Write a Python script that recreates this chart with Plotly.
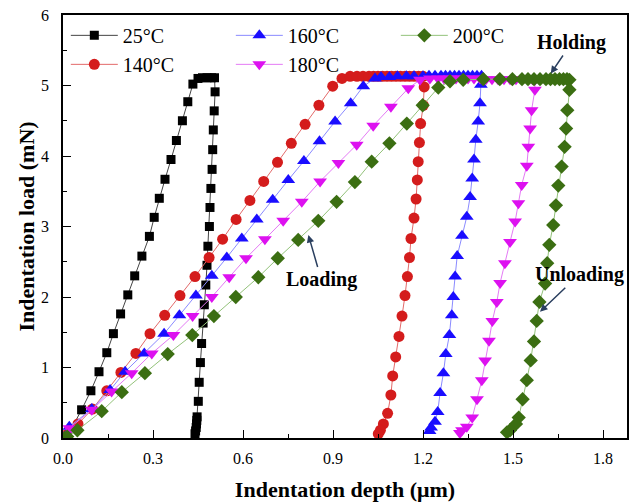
import plotly.graph_objects as go

# ---- data (indentation depth in um, load in mN) ----
names = ["25°C", "140°C", "160°C", "180°C", "200°C"]

x25 = [0.005, 0.014, 0.062, 0.093, 0.12, 0.146, 0.168, 0.192, 0.216, 0.239, 0.263, 0.288, 0.304, 0.321,
       0.34, 0.36, 0.378, 0.398, 0.416, 0.433, 0.45, 0.465, 0.48, 0.495, 0.505,
       0.507, 0.504, 0.501, 0.499, 0.497, 0.493, 0.49, 0.488, 0.483, 0.48, 0.476, 0.471, 0.467, 0.462,
       0.458, 0.454, 0.451, 0.447, 0.446, 0.445, 0.444, 0.442, 0.44]
y25 = [0.0, 0.02, 0.40, 0.67, 0.94, 1.21, 1.48, 1.76, 2.03, 2.30, 2.58, 2.86, 3.13, 3.40,
       3.67, 3.95, 4.22, 4.50, 4.77, 5.02, 5.10, 5.11, 5.11, 5.11, 5.11,
       4.91, 4.64, 4.37, 4.09, 3.81, 3.54, 3.27, 3.00, 2.72, 2.45, 2.17, 1.89, 1.63, 1.34,
       1.07, 0.79, 0.52, 0.30, 0.25, 0.20, 0.15, 0.10, 0.06]

x140 = [0.01, 0.05, 0.098, 0.146, 0.193, 0.243, 0.29, 0.339, 0.39, 0.44, 0.487, 0.532, 0.577, 0.623,
        0.669, 0.715, 0.761, 0.807, 0.853, 0.899, 0.93,
        0.957, 0.98, 1.0, 1.02, 1.035, 1.05, 1.065, 1.08, 1.095, 1.11, 1.125, 1.14, 1.155, 1.17, 1.185, 1.2,
        1.204, 1.201, 1.192, 1.188, 1.184, 1.181, 1.177, 1.17, 1.16, 1.155, 1.148, 1.14, 1.13, 1.12,
        1.109, 1.099, 1.093, 1.082, 1.068, 1.058, 1.051]
y140 = [0.04, 0.2, 0.41, 0.67, 0.93, 1.20, 1.48, 1.74, 2.02, 2.29, 2.56, 2.82, 3.10, 3.37,
        3.64, 3.91, 4.18, 4.45, 4.72, 4.99, 5.10,
        5.13, 5.13, 5.13, 5.13, 5.13, 5.13, 5.13, 5.13, 5.13, 5.13, 5.13, 5.13, 5.13, 5.13, 5.13, 5.13,
        4.98, 4.72, 4.46, 4.19, 3.92, 3.66, 3.39, 3.12, 2.83, 2.56, 2.29, 2.02, 1.73, 1.44,
        1.15, 0.88, 0.61, 0.35, 0.20, 0.11, 0.06]

x160 = [0.01, 0.021, 0.096, 0.157, 0.207, 0.271, 0.337, 0.388, 0.443, 0.496, 0.546, 0.596, 0.646, 0.699,
        0.751, 0.803, 0.855, 0.907, 0.959, 1.001, 1.04,
        1.06, 1.088, 1.115, 1.145, 1.17, 1.2, 1.22, 1.24, 1.26, 1.275, 1.29, 1.305, 1.32, 1.335, 1.35,
        1.365, 1.38, 1.395,
        1.393, 1.39, 1.384, 1.376, 1.37, 1.364, 1.357, 1.346, 1.33, 1.314, 1.307, 1.301, 1.296, 1.288,
        1.276, 1.268, 1.257, 1.249, 1.24, 1.227, 1.222]
y160 = [0.03, 0.16, 0.41, 0.68, 0.94, 1.20, 1.48, 1.74, 2.02, 2.30, 2.56, 2.83, 3.10, 3.38,
        3.66, 3.93, 4.21, 4.49, 4.75, 4.99, 5.10,
        5.12, 5.12, 5.13, 5.13, 5.13, 5.13, 5.14, 5.14, 5.14, 5.14, 5.14, 5.14, 5.14, 5.14, 5.14,
        5.14, 5.14, 5.14,
        5.01, 4.75, 4.49, 4.23, 3.95, 3.68, 3.42, 3.14, 2.87, 2.58, 2.29, 2.00, 1.74, 1.46,
        1.19, 0.92, 0.64, 0.37, 0.23, 0.15, 0.10]

x180 = [0.01, 0.021, 0.096, 0.162, 0.229, 0.296, 0.368, 0.432, 0.496, 0.554, 0.61, 0.673, 0.734, 0.796,
        0.857, 0.918, 0.979, 1.034, 1.093, 1.151, 1.19,
        1.223, 1.25, 1.27, 1.29, 1.31, 1.33, 1.35, 1.37, 1.39, 1.41, 1.43, 1.45, 1.47, 1.49, 1.51, 1.53,
        1.55, 1.565, 1.573,
        1.573, 1.562, 1.557, 1.551, 1.546, 1.529, 1.518, 1.507, 1.49, 1.473, 1.457, 1.446, 1.431, 1.42,
        1.407, 1.396, 1.38, 1.364, 1.346, 1.33, 1.323]
y180 = [0.05, 0.14, 0.40, 0.66, 0.92, 1.20, 1.46, 1.73, 2.00, 2.28, 2.55, 2.82, 3.08, 3.35,
        3.64, 3.90, 4.16, 4.43, 4.70, 4.96, 5.08,
        5.10, 5.10, 5.10, 5.10, 5.10, 5.10, 5.10, 5.10, 5.10, 5.09, 5.09, 5.09, 5.09, 5.09, 5.09, 5.09,
        5.09, 5.09, 5.08,
        4.94, 4.65, 4.39, 4.13, 3.86, 3.59, 3.33, 3.07, 2.78, 2.48, 2.20, 1.93, 1.66, 1.38,
        1.10, 0.82, 0.55, 0.29, 0.16, 0.11, 0.07]

x200 = [0.005, 0.014, 0.048, 0.129, 0.196, 0.273, 0.349, 0.431, 0.503, 0.576, 0.651, 0.716, 0.784, 0.851,
        0.912, 0.973, 1.029, 1.088, 1.146, 1.199, 1.251, 1.29,
        1.334, 1.401, 1.456, 1.498, 1.53, 1.55, 1.57, 1.59, 1.61, 1.625, 1.64, 1.655, 1.668, 1.68, 1.688,
        1.688, 1.681, 1.677, 1.672, 1.662, 1.651, 1.643, 1.634, 1.621, 1.614, 1.607, 1.588, 1.579, 1.57,
        1.559, 1.546, 1.532, 1.519, 1.51, 1.49, 1.48]
y200 = [0.0, 0.02, 0.11, 0.38, 0.65, 0.92, 1.19, 1.46, 1.73, 2.00, 2.28, 2.55, 2.81, 3.08,
        3.35, 3.63, 3.92, 4.18, 4.46, 4.72, 4.97, 5.06,
        5.08, 5.09, 5.09, 5.09, 5.09, 5.09, 5.09, 5.09, 5.09, 5.09, 5.09, 5.09, 5.09, 5.09, 5.08,
        4.94, 4.65, 4.39, 4.13, 3.85, 3.58, 3.30, 3.02, 2.74, 2.48, 2.19, 1.93, 1.66, 1.37,
        1.10, 0.82, 0.55, 0.29, 0.20, 0.11, 0.08]

xs = [x25, x140, x160, x180, x200]
ys = [y25, y140, y160, y180, y200]
marker_colors = ["#000000", "#d41c1c", "#1a0dff", "#dd11f0", "#3b6e12"]
line_colors = ["#444444", "#e36a6a", "#8a8aff", "#e47af5", "#93c27a"]
symbols = ["square", "circle", "triangle-up", "triangle-down", "diamond"]
sizes = [9, 11, 12, 12, 11]
ranks = [1, 4, 2, 5, 3]

FONT = "Liberation Serif, Times New Roman, serif"

fig = go.Figure()
for name, x, y, mc, lc, sym, sz, rk in zip(names, xs, ys, marker_colors, line_colors, symbols, sizes, ranks):
    fig.add_trace(go.Scatter(
        x=x, y=y, name=name, mode="lines+markers",
        line=dict(color=lc, width=1),
        marker=dict(symbol=sym, size=sz, color=mc, line=dict(width=0)),
        legendrank=rk,
    ))

axis_common = dict(
    showline=True, linecolor="black", linewidth=1.5, mirror=True,
    ticks="inside", ticklen=8, tickwidth=1.3, tickcolor="black",
    showgrid=False, zeroline=False, automargin=False,
    tickfont=dict(family=FONT, size=16, color="black"),
)

fig.update_xaxes(
    range=[0, 1.88], tick0=0, dtick=0.3, tickformat=".1f",
    minor=dict(dtick=0.15, ticks="inside", ticklen=4, tickcolor="black", tickwidth=1.2),
    title=dict(text="<b>Indentation depth (μm)</b>", font=dict(family=FONT, size=22, color="black"),
               standoff=22),
    ticklabelstandoff=5,
    **axis_common,
)
fig.update_yaxes(
    range=[0, 6], tick0=0, dtick=1,
    minor=dict(dtick=0.5, ticks="inside", ticklen=4, tickcolor="black", tickwidth=1.2),
    title=dict(text="<b>Indentation load (mN)</b>", font=dict(family=FONT, size=22, color="black"),
               standoff=0),
    ticklabelstandoff=9,
    **axis_common,
)

ann_font = dict(family=FONT, size=20, color="black")
fig.add_annotation(x=1.626, y=5.17, text="<b>Holding</b>", ax=21, ay=-31, showarrow=True,
                   arrowhead=2, arrowsize=1, arrowwidth=1.5, font=ann_font)
fig.add_annotation(x=0.818, y=2.88, text="<b>Loading</b>", ax=13, ay=45, showarrow=True,
                   arrowhead=2, arrowsize=1, arrowwidth=1.5, font=ann_font)
fig.add_annotation(x=1.59, y=1.79, text="<b>Unloading</b>", ax=39, ay=-37, showarrow=True,
                   arrowhead=2, arrowsize=1, arrowwidth=1.5, font=ann_font)

fig.update_layout(
    width=637, height=502,
    margin=dict(l=63, r=10, t=15, b=64),
    plot_bgcolor="white", paper_bgcolor="white",
    font=dict(family=FONT, color="black"),
    legend=dict(
        orientation="h", x=0.005, y=0.998, xanchor="left", yanchor="top",
        entrywidth=103, entrywidthmode="pixels", itemwidth=47,
        font=dict(family=FONT, size=20, color="black"),
        bgcolor="rgba(0,0,0,0)", tracegroupgap=0,
    ),
    showlegend=True,
)

fig.write_html("out.html")
